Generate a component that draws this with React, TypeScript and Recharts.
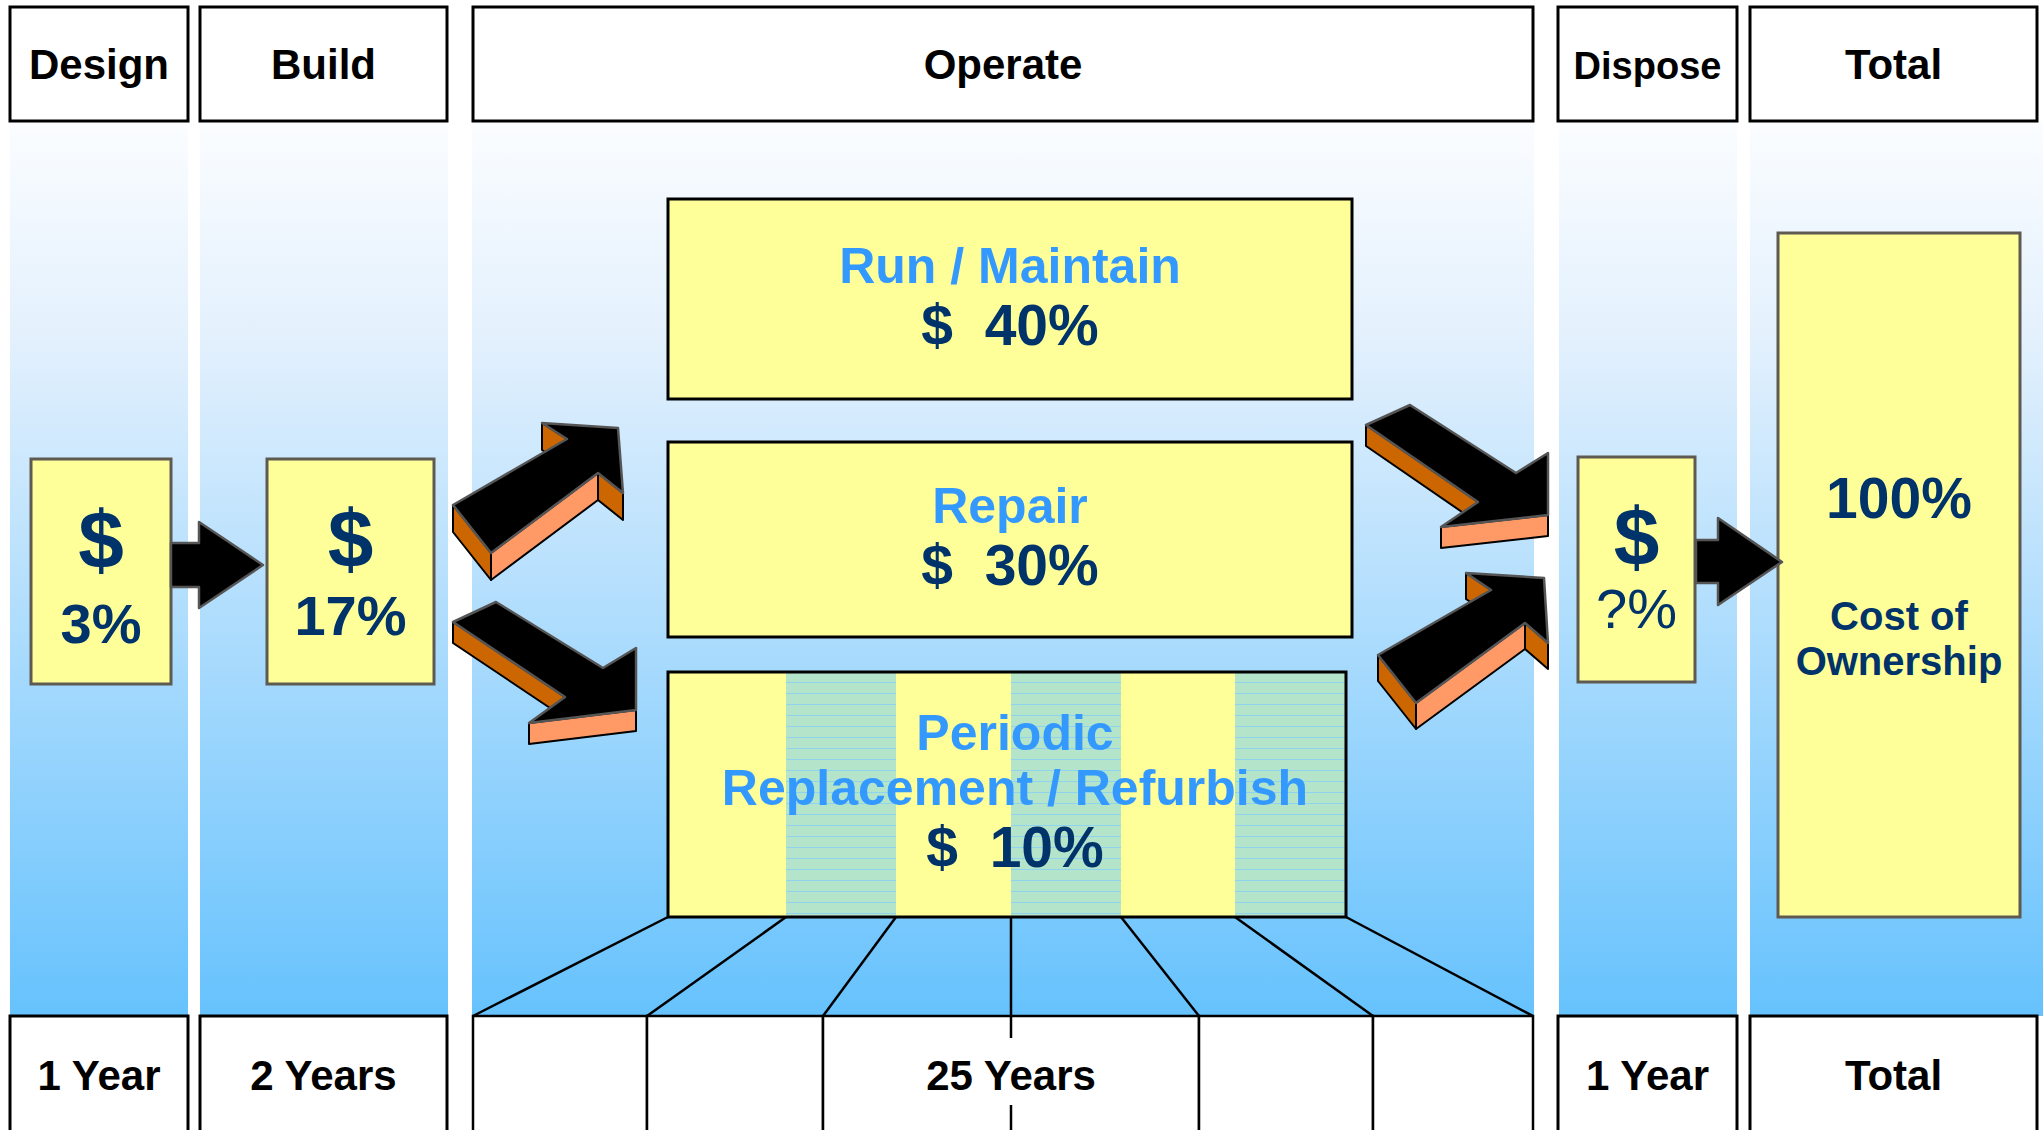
import React from "react";
import { ComposedChart, XAxis, YAxis, ReferenceArea, ReferenceLine, Scatter } from "recharts";

// ---- data ----
const phaseNames = ["Design", "Build", "Operate", "Dispose", "Total"];
const phaseDurations = ["1 Year", "2 Years", "25 Years", "1 Year", "Total"];
const phaseShares = ["3%", "17%", "", "?%", "100%"];
const operateItems = ["Run / Maintain", "Repair", "Periodic|Replacement / Refurbish"];
const operateShares = [40, 30, 10];
const totalNote = ["Cost of", "Ownership"];

// ---- layout (page pixels, mapped through the hidden axes) ----
const W = 2043;
const H = 1130;
const headCols = [[10, 188], [200, 447], [473, 1533], [1558, 1737], [1750, 2037]];
const bgCols = [[10, 188], [200, 448], [472, 1534], [1559, 1737], [1750, 2043]];
const HEAD = [7, 121];
const FOOT = [1016, 1130];
const footEdges = [473, 647, 823, 1011, 1199, 1373, 1533];
const stripeEdges = [668, 786, 896, 1011, 1121, 1235, 1346];
const shareBoxes = [[31, 171, 459, 684], [267, 434, 459, 684], null, [1578, 1695, 457, 682], [1778, 2020, 233, 917]];
const shareDy = [[109, 184], [108, 176], null, [108, 171], [285]];
const opBoxes = [[668, 1352, 199, 399], [668, 1352, 442, 637], [668, 1346, 672, 917]];
const opDy = [[84, 146], [81, 143], [78, 133, 195]];
const opDx = [0, 0, 8];

const flatArrows = [
  [[171, 543], [199, 543], [199, 522], [263, 565], [199, 608], [199, 587], [171, 587]],
  [[1696, 540], [1718, 540], [1718, 518], [1782, 562], [1718, 605], [1718, 583], [1696, 583]],
];
const blockArrows = [
  { pts: [[453, 505], [491, 553], [598, 473], [623, 493], [618, 428], [542, 423], [567, 439]], depth: 27 },
  { pts: [[453, 622], [496, 602], [603, 668], [636, 648], [636, 710], [529, 723], [565, 697]], depth: 21 },
  { pts: [[1366, 425], [1410, 405], [1516, 473], [1548, 453], [1548, 515], [1441, 527], [1478, 502]], depth: 21 },
  { pts: [[1378, 655], [1416, 703], [1525, 623], [1548, 643], [1544, 578], [1466, 573], [1491, 590]], depth: 26 },
];

const anchorPoints = headCols.map((c, i) => ({ x: (c[0] + c[1]) / 2, y: (HEAD[0] + HEAD[1]) / 2, name: phaseNames[i] }));

const FONT = "'Liberation Sans', Arial, Helvetica, sans-serif";
const NAVY = "#00336a";
const SKY = "#3399ff";
const YELLOW = "#ffff99";
const EDGE = "#5e5a52";

type TextLine = { t: string; dy: number; size: number; color: string; bold?: boolean; dx?: number };

const boxShape = (fill: string, stroke: string, sw: number, lines: TextLine[]) => (p: any) => {
  const cx = p.x + p.width / 2;
  return (
    <g>
      <rect x={p.x} y={p.y} width={p.width} height={p.height} fill={fill} stroke={stroke} strokeWidth={sw} />
      {lines.map((l, i) => (
        <text
          key={i}
          x={cx + (l.dx ?? 0)}
          y={p.y + l.dy}
          textAnchor="middle"
          fontFamily={FONT}
          fontSize={l.size}
          fontWeight={l.bold === false ? 400 : 700}
          fill={l.color}
        >
          {l.t}
        </text>
      ))}
    </g>
  );
};

const bbox = (pts: number[][], depth = 0) => {
  const xs = pts.map((q) => q[0]);
  const ys = pts.map((q) => q[1]);
  return [Math.min(...xs), Math.max(...xs), Math.min(...ys), Math.max(...ys) + depth];
};

const polyShape = (pts: number[][], depth: number) => (p: any) => {
  const [x1, x2, y1, y2] = bbox(pts, depth);
  const sx = (v: number) => p.x + ((v - x1) * p.width) / (x2 - x1);
  const sy = (v: number) => p.y + ((v - y1) * p.height) / (y2 - y1);
  const P = pts.map(([x, y]) => [sx(x), sy(y)]);
  const d = (depth * p.height) / (y2 - y1);
  let area = 0;
  P.forEach(([x, y], i) => {
    const [nx, ny] = P[(i + 1) % P.length];
    area += x * ny - nx * y;
  });
  const faces: React.ReactNode[] = [];
  if (depth > 0) {
    P.forEach(([ax, ay], i) => {
      const [bx, by] = P[(i + 1) % P.length];
      const dx = bx - ax;
      const dy = by - ay;
      const n = area > 0 ? [dy, -dx] : [-dy, dx];
      if (n[1] <= 0) return;
      faces.push(
        <polygon
          key={i}
          points={`${ax},${ay} ${bx},${by} ${bx},${by + d} ${ax},${ay + d}`}
          fill={n[0] > 0 ? "#ff9966" : "#cc6600"}
          stroke="#000"
          strokeWidth={2}
          strokeLinejoin="round"
        />
      );
    });
  }
  return (
    <g>
      {faces}
      <polygon points={P.map((q) => q.join(",")).join(" ")} fill="#000" stroke="#555" strokeWidth={2.5} strokeLinejoin="round" />
    </g>
  );
};

export default function App() {
  return (
    <div style={{ position: "absolute", left: 0, top: 0, width: W, height: H, background: "#fff", fontFamily: FONT }}>
      <ComposedChart width={W} height={H} data={anchorPoints} margin={{ top: 0, right: 0, bottom: 0, left: 0 }}>
        <defs>
          <linearGradient id="bgGrad" gradientUnits="userSpaceOnUse" x1="0" y1={HEAD[1]} x2="0" y2={FOOT[0]}>
            <stop offset="0" stopColor="#fbfdff" />
            <stop offset="0.25" stopColor="#e2f0fd" />
            <stop offset="1" stopColor="#66c2fd" />
          </linearGradient>
          <pattern id="hatch" width="8" height="11" patternUnits="userSpaceOnUse">
            <rect width="8" height="11" fill="#b4e4ca" />
            <line x1="0" y1="0.5" x2="8" y2="0.5" stroke="#8fd3ee" strokeWidth="1" />
          </pattern>
        </defs>
        <XAxis type="number" dataKey="x" domain={[0, W]} allowDataOverflow hide />
        <YAxis type="number" dataKey="y" domain={[0, H]} allowDataOverflow reversed hide />
        <Scatter data={anchorPoints} dataKey="y" fill="none" shape={() => <g />} isAnimationActive={false} />

        {bgCols.map(([a, b], i) => (
          <ReferenceArea key={`bg${i}`} x1={a} x2={b} y1={HEAD[1]} y2={FOOT[0]} ifOverflow="visible" fill="url(#bgGrad)" fillOpacity={1} stroke="none" />
        ))}

        {headCols.map(([a, b], i) => (
          <ReferenceArea
            key={`h${i}`}
            x1={a}
            x2={b}
            y1={HEAD[0]}
            y2={HEAD[1]}
            ifOverflow="visible"
            shape={boxShape("#fff", "#000", 3, [{ t: phaseNames[i], dy: 72, size: i === 3 ? 38 : 42, color: "#000" }])}
          />
        ))}

        {headCols.map(([a, b], i) =>
          i === 2 ? null : (
            <ReferenceArea
              key={`f${i}`}
              x1={a}
              x2={b}
              y1={FOOT[0]}
              y2={FOOT[1] + 4}
              ifOverflow="visible"
              shape={boxShape("#fff", "#000", 3, [{ t: phaseDurations[i], dy: 74, size: 42, color: "#000" }])}
            />
          )
        )}
        {footEdges.slice(0, -1).map((a, i) =>
          i === 3 ? null : (
            <ReferenceArea
              key={`fs${i}`}
              x1={a}
              x2={i === 2 ? footEdges[i + 2] : footEdges[i + 1]}
              y1={FOOT[0]}
              y2={FOOT[1] + 4}
              ifOverflow="visible"
              shape={boxShape("#fff", "#000", 2.5, i === 2 ? [{ t: phaseDurations[2], dy: 74, size: 42, color: "#000" }] : [])}
            />
          )
        )}

        {stripeEdges.map((a, i) => (
          <ReferenceLine
            key={`tl${i}`}
            ifOverflow="visible"
            segment={[{ x: a, y: opBoxes[2][3] }, { x: footEdges[i], y: FOOT[0] }]}
            stroke="#000"
            strokeWidth={2.5}
          />
        ))}
        <ReferenceLine ifOverflow="visible" segment={[{ x: footEdges[3], y: FOOT[0] }, { x: footEdges[3], y: 1038 }]} stroke="#000" strokeWidth={2.5} />
        <ReferenceLine ifOverflow="visible" segment={[{ x: footEdges[3], y: 1105 }, { x: footEdges[3], y: H }]} stroke="#000" strokeWidth={2.5} />

        {shareBoxes.map((bx, i) => {
          if (!bx) return null;
          const dys = shareDy[i] as number[];
          const lines: TextLine[] =
            i === 4
              ? [
                  { t: phaseShares[i], dy: dys[0], size: 57, color: NAVY },
                  { t: totalNote[0], dy: dys[0] + 112, size: 40, color: NAVY },
                  { t: totalNote[1], dy: dys[0] + 157, size: 40, color: NAVY },
                ]
              : [
                  { t: "$", dy: dys[0], size: 82, color: NAVY },
                  { t: phaseShares[i], dy: dys[1], size: 56, color: NAVY, bold: i !== 3 },
                ];
          return (
            <ReferenceArea key={`s${i}`} x1={bx[0]} x2={bx[1]} y1={bx[2]} y2={bx[3]} ifOverflow="visible" shape={boxShape(YELLOW, EDGE, 3, lines)} />
          );
        })}

        {opBoxes.map((bx, i) => (
          <ReferenceArea key={`ob${i}`} x1={bx[0]} x2={bx[1]} y1={bx[2]} y2={bx[3]} ifOverflow="visible" fill={YELLOW} fillOpacity={1} stroke="none" />
        ))}
        {[1, 3, 5].map((k) => (
          <ReferenceArea
            key={`st${k}`}
            x1={stripeEdges[k]}
            x2={stripeEdges[k + 1]}
            y1={opBoxes[2][2]}
            y2={opBoxes[2][3]}
            ifOverflow="visible"
            fill="url(#hatch)"
            fillOpacity={1}
            stroke="none"
          />
        ))}
        {opBoxes.map((bx, i) => {
          const names = operateItems[i].split("|");
          const dys = opDy[i];
          const lines: TextLine[] = names.map((t, j) => ({ t, dy: dys[j], size: 50, color: SKY, dx: opDx[i] }));
          lines.push({ t: `$\u00a0\u00a0${operateShares[i]}%`, dy: dys[names.length], size: 57, color: NAVY, dx: opDx[i] });
          return (
            <ReferenceArea key={`ot${i}`} x1={bx[0]} x2={bx[1]} y1={bx[2]} y2={bx[3]} ifOverflow="visible" shape={boxShape("none", "#000", 3, lines)} />
          );
        })}

        {flatArrows.map((pts, i) => {
          const [a, b, c, d] = bbox(pts);
          return <ReferenceArea key={`fa${i}`} x1={a} x2={b} y1={c} y2={d} ifOverflow="visible" shape={polyShape(pts, 0)} />;
        })}
        {blockArrows.map((ar, i) => {
          const [a, b, c, d] = bbox(ar.pts, ar.depth);
          return <ReferenceArea key={`ba${i}`} x1={a} x2={b} y1={c} y2={d} ifOverflow="visible" shape={polyShape(ar.pts, ar.depth)} />;
        })}
      </ComposedChart>
    </div>
  );
}
